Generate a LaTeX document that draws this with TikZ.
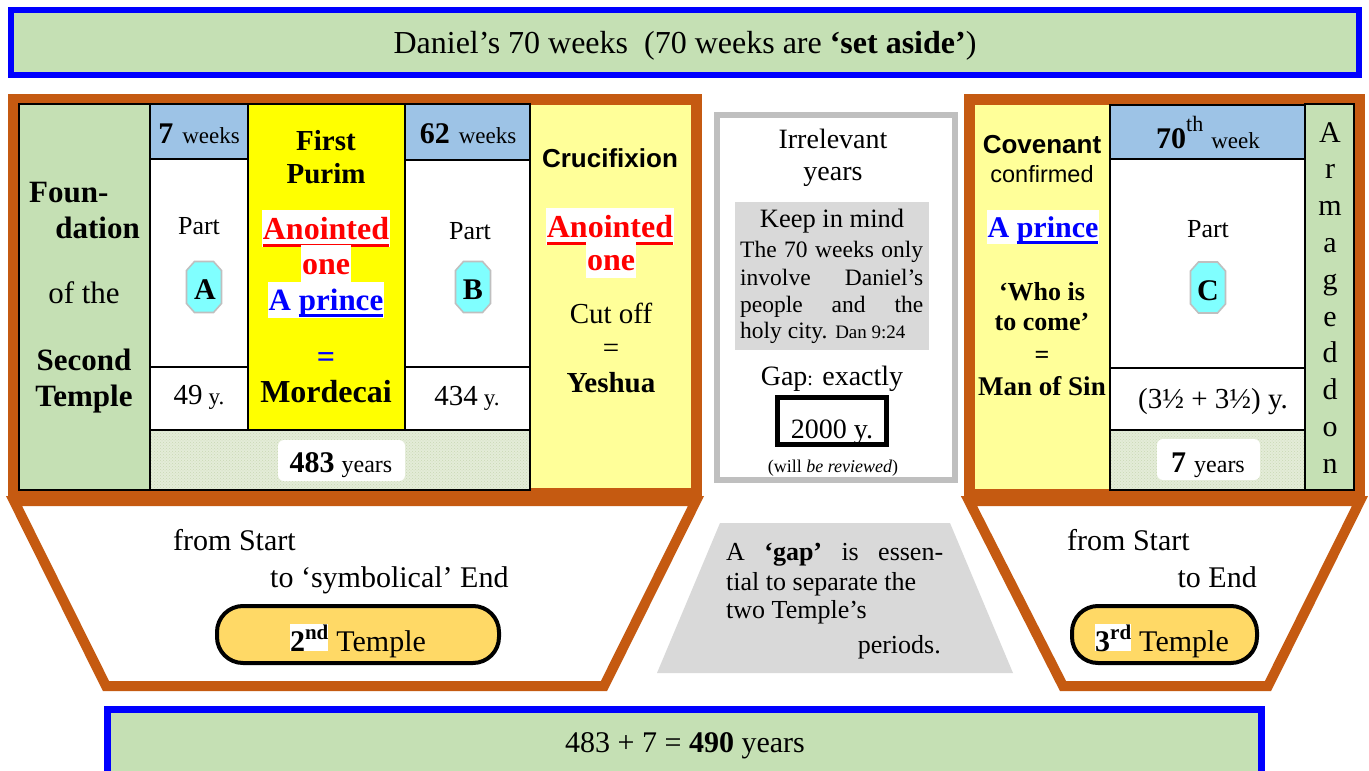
\documentclass[tikz,border=0pt]{standalone}
\usepackage{fontspec}
\setmainfont{Liberation Serif}
\newfontfamily\arialf{Liberation Sans}
\usetikzlibrary{patterns}
\definecolor{bannergreen}{RGB}{197,224,180}
\definecolor{frameorange}{RGB}{197,90,17}
\definecolor{headblue}{RGB}{157,195,230}
\definecolor{lightyel}{RGB}{255,255,153}
\definecolor{pureyel}{RGB}{255,255,0}
\definecolor{octcyan}{RGB}{128,255,255}
\definecolor{octgray}{RGB}{191,191,191}
\definecolor{boxgray}{RGB}{217,217,217}
\definecolor{pillgold}{RGB}{255,217,102}
\definecolor{hatchbg}{RGB}{228,236,216}
\definecolor{hatchfg}{RGB}{200,216,180}
\definecolor{txtred}{RGB}{255,0,0}
\definecolor{txtblue}{RGB}{0,0,255}
\setlength{\fboxsep}{0pt}
\newcommand\myfs[1]{\fontsize{#1pt}{#1pt}\selectfont}
\newcommand\mystrut{\rule[-0.22em]{0pt}{1.1em}}
\newsavebox\myulbox
\newcommand\myul[3]{\sbox\myulbox{#3}\rlap{\color{#1}\rule[#2]{\wd\myulbox}{2.6pt}}\usebox\myulbox}
\newcommand\myoct[2]{\draw[octgray, fill=octcyan, line width=1.6pt]
  ({#1-9.5},{#2-25.5}) -- ({#1+9.5},{#2-25.5}) -- ({#1+17.5},{#2-16.5}) -- ({#1+17.5},{#2+16.5})
  -- ({#1+9.5},{#2+25.5}) -- ({#1-9.5},{#2+25.5}) -- ({#1-17.5},{#2+16.5}) -- ({#1-17.5},{#2-16.5}) -- cycle;}
\newcommand\myhatch[4]{\fill[hatchbg] (#1,#2) rectangle (#3,#4);
  \fill[pattern=crosshatch dots, pattern color=hatchfg] (#1,#2) rectangle (#3,#4);
  \draw[cell] (#1,#2) rectangle (#3,#4);}
\begin{document}
\begin{tikzpicture}[x=1pt, y=-1pt,
  txt/.style={inner sep=0pt, anchor=base},
  wbg/.style={inner xsep=1pt, inner ysep=0.5pt, anchor=base, fill=white},
  cell/.style={draw=black, line width=1.5pt},
  frame/.style={draw=frameorange, line width=11pt},
  trap/.style={draw=frameorange, line width=10pt, fill=white, line join=miter},
  pill/.style={draw=black, line width=4pt, fill=pillgold, rounded corners=26pt, inner sep=0pt},
  banner/.style={draw=txtblue, line width=6pt, fill=bannergreen, inner sep=0pt},
  wbox/.style={fill=white, rounded corners=6pt, inner sep=0pt}]
\useasboundingbox (0,0) rectangle (1369,771);
\fill[white] (0,0) rectangle (1369,771);

% title banner
\node[banner, minimum width=1348pt, minimum height=65pt] (title) at (685,42.5) {};
\node[txt] (titlet) at (685,53) {\myfs{32}Daniel’s 70 weeks\ \ (70 weeks are \textbf{‘set aside’})};

% trapezoids
\draw[trap] (14,501) -- (106,686) -- (604,686) -- (696,501) -- cycle;
\draw[trap] (969,501) -- (1063,686) -- (1268,686) -- (1360,501) -- cycle;

% left panel
\fill[lightyel] (19,104) rectangle (691,489);
\draw[frame] (13.5,99) rectangle (696.5,493.5);
\draw[cell, fill=bannergreen] (19,104) rectangle (150,490);
\draw[cell, fill=headblue] (150,104) rectangle (248,159);
\draw[cell, fill=white] (150,159) rectangle (248,367);
\draw[cell, fill=white] (150,367) rectangle (248,430);
\draw[cell, fill=pureyel] (248,104) rectangle (405,430);
\draw[cell, fill=headblue] (405,104) rectangle (530,160);
\draw[cell, fill=white] (405,160) rectangle (530,367);
\draw[cell, fill=white] (405,367) rectangle (530,430);
\myhatch{150}{430}{530}{490}

% green column
\node[txt, anchor=base west] (foun) at (29,202) {\myfs{31}\bfseries Foun-};
\node[txt, anchor=base east] (dation) at (140,238) {\myfs{31}\bfseries dation};
\node[txt] (ofthe) at (84,303) {\myfs{31}of the};
\node[txt] (second) at (84,370) {\myfs{31}\bfseries Second};
\node[txt] (temple) at (84,406) {\myfs{31}\bfseries Temple};

% column A
\node[txt] (hA) at (199,143) {{\myfs{30}\bfseries 7}\hspace{9pt}{\myfs{23}weeks}};
\node[txt] (pA) at (199,234) {\myfs{26}Part};
\myoct{204}{287}
\node[txt] (oAt) at (205,299) {\myfs{30}\bfseries A};
\node[txt] (yA) at (199,404) {\myfs{29}49\hspace{6pt}\myfs{23}y.};

% purim column
\node[txt] (first) at (326,150) {\myfs{29}\bfseries First};
\node[txt] (purim) at (326,183) {\myfs{29}\bfseries Purim};
\node[wbg] (anoint1) at (326,239) {\myfs{32}\bfseries\color{txtred}\mystrut\myul{txtred}{-7.5pt}{Anointed}};
\node[wbg] (one1) at (326,274) {\myfs{32}\bfseries\color{txtred}\mystrut one};
\node[wbg] (prince1) at (326,310) {\myfs{31}\bfseries\color{txtblue}\mystrut A \myul{txtblue}{-7pt}{prince}};
\node[txt] (eq1) at (326,367) {\myfs{32}\bfseries\color{txtblue}=};
\node[txt] (mord) at (326,402) {\myfs{32}\bfseries Mordecai};

% column B
\node[txt] (hB) at (468,143) {{\myfs{30}\bfseries 62}\hspace{9pt}{\myfs{23}weeks}};
\node[txt] (pB) at (470,239) {\myfs{26}Part};
\myoct{473}{287}
\node[txt] (oBt) at (473,299) {\myfs{30}\bfseries B};
\node[txt] (yB) at (467,405) {\myfs{29}434\hspace{6pt}\myfs{23}y.};

% 483 years
\node[wbox, minimum width=127pt, minimum height=41pt] (box483) at (341.5,460.5) {};
\node[txt] (t483) at (341,472) {{\myfs{30}\bfseries 483}\hspace{7pt}{\myfs{24}years}};

% crucifixion column
\node[txt] (cruc) at (610,167) {\myfs{26}\arialf\bfseries Crucifixion};
\node[wbg] (anoint2) at (610,237) {\myfs{32}\bfseries\color{txtred}\mystrut\myul{txtred}{-7.5pt}{Anointed}};
\node[wbg] (one2) at (611,270) {\myfs{32}\bfseries\color{txtred}\mystrut one};
\node[txt] (cut) at (611,323) {\myfs{29}Cut off};
\node[txt] (eq2) at (611,357) {\myfs{29}=};
\node[txt] (yesh) at (611,392) {\myfs{29}\bfseries Yeshua};

% middle box
\draw[octgray, line width=6pt, fill=white] (717,115) rectangle (955,480);
\fill[boxgray] (735,202) rectangle (929,350);
\node[txt] (irr) at (833,148) {\myfs{28}Irrelevant};
\node[txt] (yrs) at (833,180) {\myfs{28}years};
\node[txt] (keep) at (832,227) {\myfs{26.5}Keep in mind};
\node[txt, anchor=base west] (l1) at (740,257) {\myfs{23.5}\makebox[183pt][s]{The 70 weeks only}};
\node[txt, anchor=base west] (l2) at (740,285) {\myfs{23.5}\makebox[183pt][s]{involve Daniel’s}};
\node[txt, anchor=base west] (l3) at (740,312) {\myfs{23.5}\makebox[183pt][s]{people and the}};
\node[txt, anchor=base west] (l4) at (740,338) {\myfs{23.5}holy city. {\myfs{19}Dan 9:24}};
\node[txt] (gap) at (832,385) {\myfs{28}Gap{\myfs{20}:} exactly};
\node[draw=black, line width=5pt, minimum width=109pt, minimum height=47pt, inner sep=0pt] (y2000) at (832,421) {};
\node[txt] (t2000) at (832,438) {\myfs{28}2000 y.};
\node[txt] (review) at (833,472) {\myfs{18}(will \textit{be reviewed})};

% gap trapezoid
\fill[boxgray] (720,523) -- (950,523) -- (1013,673) -- (657,673) -- cycle;
\node[txt, anchor=base west] (g1) at (726,560) {\myfs{26}\makebox[217pt][s]{A \textbf{‘gap’} is essen-}};
\node[txt, anchor=base west] (g2) at (726,590) {\myfs{26}tial to separate the};
\node[txt, anchor=base west] (g3) at (726,618) {\myfs{26}two Temple’s};
\node[txt, anchor=base east] (g4) at (941,653) {\myfs{26}periods.};

% right panel
\fill[lightyel] (975,105) rectangle (1355,489);
\draw[frame] (969.5,99.5) rectangle (1359.5,494);
\draw[cell, fill=headblue] (1110,105) rectangle (1305,159);
\draw[cell, fill=white] (1110,159) rectangle (1305,368);
\draw[cell, fill=white] (1110,368) rectangle (1305,430);
\myhatch{1110}{430}{1305}{490}
\draw[cell, fill=bannergreen] (1305,104) rectangle (1354,490);

\node[txt] (cov) at (1042,153) {\myfs{26}\arialf\bfseries Covenant};
\node[txt] (conf) at (1042,182) {\myfs{23.5}\arialf confirmed};
\node[wbg] (prince2) at (1043,237) {\myfs{30}\bfseries\color{txtblue}\mystrut A \myul{txtblue}{-6.5pt}{prince}};
\node[txt] (who) at (1042,300) {\myfs{26}\bfseries ‘Who is};
\node[txt] (tocome) at (1042,330) {\myfs{26}\bfseries to come’};
\node[txt] (eq3) at (1042,363) {\myfs{26}\bfseries =};
\node[txt] (mos) at (1042,395) {\myfs{27}\bfseries Man of Sin};

\node[txt] (h70) at (1208,148) {{\myfs{30}\bfseries 70}\raisebox{17pt}{\myfs{22}th}\hspace{8pt}{\myfs{23}week}};
\node[txt] (pC) at (1208,237) {\myfs{26}Part};
\myoct{1208}{287.5}
\node[txt] (oCt) at (1208,300) {\myfs{30}\bfseries C};
\node[txt] (half) at (1213,408) {\myfs{29}(3½ + 3½) y.};
\node[wbox, minimum width=103pt, minimum height=41pt] (box7) at (1208.5,459.5) {};
\node[txt] (t7) at (1208,472) {{\myfs{30}\bfseries 7}\hspace{8pt}{\myfs{24}years}};

\foreach \L [count=\i] in {A,r,m,a,g,e,d,d,o,n}
  \node[txt] (arm\i) at (1330,{142+36.8*(\i-1)}) {\myfs{30}\L};

% bottom trapezoid texts and pills
\node[txt, anchor=base west] (fs1) at (173,550) {\myfs{30}from Start};
\node[txt, anchor=base west] (fs2) at (270,587) {\myfs{30}to ‘symbolical’ End};
\node[pill, minimum width=282pt, minimum height=57pt] (pill2) at (358,634.5) {};
\node[txt] (t2nd) at (358,651) {\myfs{30}\colorbox{white}{\bfseries 2\raisebox{12pt}{\myfs{21}nd}}\hspace{8pt}Temple};

\node[txt, anchor=base west] (fs3) at (1067,550) {\myfs{30}from Start};
\node[txt, anchor=base east] (fs4) at (1257,587) {\myfs{30}to End};
\node[pill, minimum width=185pt, minimum height=57pt] (pill3) at (1164.5,634.5) {};
\node[txt] (t3rd) at (1162,651) {\myfs{30}\colorbox{white}{\bfseries 3\raisebox{12pt}{\myfs{21}rd}}\hspace{8pt}Temple};

% bottom banner
\node[banner, line width=7pt, minimum width=1154pt, minimum height=70pt] (total) at (684,744) {};
\node[txt] (totalt) at (685,752) {\myfs{30}483 + 7 = \textbf{490} years};
\end{tikzpicture}
\end{document}
